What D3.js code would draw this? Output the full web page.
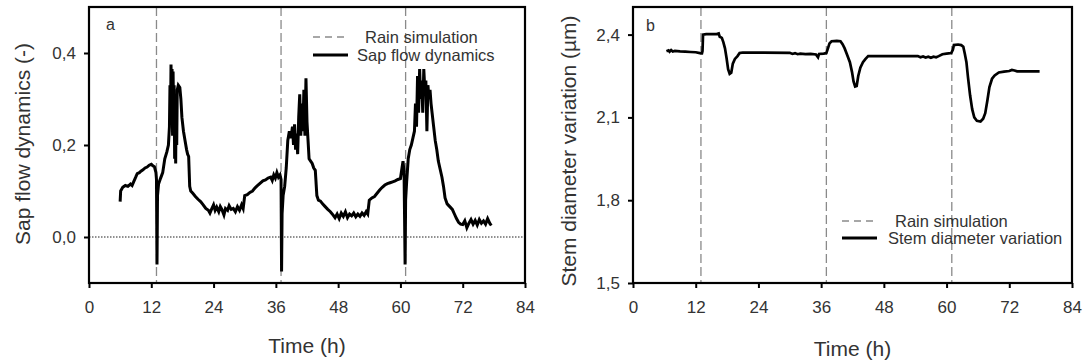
<!DOCTYPE html>
<html>
<head>
    <meta charset="utf-8">
    <script type="text/javascript" src="https://d3js.org/d3.v7.min.js"></script>
    <style>
        body { margin: 0; background: white; }
        text { font-family: "Liberation Sans", Arial, sans-serif; fill: #333; }
    </style>
</head>
<body>
    <div id="chart"></div>
    <script type="text/javascript">
        // data
        const rainTimes = [13, 37, 61];
        const xTicks = [0, 12, 24, 36, 48, 60, 72, 84];
        const sapTicks = [0, 0.2, 0.4];
        const stemTicks = [1.5, 1.8, 2.1, 2.4];

        const sapTime = [6.0, 6.1, 6.5, 7.0, 7.5, 8.0, 8.3, 8.6, 9.0, 9.3, 9.7, 10.0, 10.4, 10.8, 11.2, 11.6, 12.0, 12.3, 12.6, 12.9, 13.0, 13.1, 13.2, 13.4, 13.8, 14.2, 14.6, 15.0, 15.3, 15.5, 15.6, 15.7, 15.8, 15.9, 16.0, 16.1, 16.2, 16.3, 16.4, 16.5, 16.6, 16.7, 16.8, 16.9, 17.0, 17.2, 17.5, 17.7, 17.9, 18.2, 18.5, 18.8, 19.0, 19.2, 19.4, 19.6, 20.0, 20.5, 21.0, 21.5, 22.0, 22.5, 23.0, 23.3, 23.6, 24.0, 24.3, 24.6, 25.0, 25.3, 25.6, 26.0, 26.3, 26.7, 27.0, 27.4, 27.8, 28.2, 28.6, 29.0, 29.4, 29.7, 30.0, 30.5, 31.0, 31.5, 32.0, 32.5, 33.0, 33.5, 34.0, 34.5, 35.0, 35.3, 35.6, 35.9, 36.2, 36.5, 36.8, 37.0, 37.1, 37.2, 37.4, 37.7, 38.0, 38.3, 38.6, 38.9, 39.2, 39.4, 39.6, 39.8, 40.0, 40.2, 40.4, 40.6, 40.8, 41.0, 41.2, 41.4, 41.6, 41.8, 42.0, 42.2, 42.4, 42.7, 43.0, 43.3, 43.6, 43.9, 44.2, 44.6, 45.0, 45.5, 46.0, 46.5, 47.0, 47.4, 47.8, 48.2, 48.6, 49.0, 49.4, 49.8, 50.2, 50.6, 51.0, 51.4, 51.8, 52.2, 52.6, 53.0, 53.4, 53.7, 54.0, 54.5, 55.0, 55.5, 56.0, 56.5, 57.0, 57.5, 58.0, 58.5, 59.0, 59.5, 60.0, 60.3, 60.5, 60.7, 60.9, 61.0, 61.2, 61.5, 61.8, 62.1, 62.4, 62.7, 62.9, 63.1, 63.3, 63.5, 63.7, 63.9, 64.1, 64.3, 64.5, 64.7, 64.9, 65.1, 65.3, 65.5, 65.7, 65.9, 66.1, 66.4, 66.7, 67.0, 67.3, 67.6, 68.0, 68.3, 68.6, 69.0, 69.5, 70.0, 70.4, 70.8, 71.2, 71.6, 72.0, 72.4, 72.8, 73.2, 73.6, 74.0, 74.4, 74.8, 75.2, 75.6, 76.0, 76.4, 76.8, 77.2, 77.5];
        const sapValue = [0.077, 0.100, 0.108, 0.112, 0.110, 0.115, 0.112, 0.120, 0.130, 0.138, 0.140, 0.143, 0.146, 0.150, 0.152, 0.156, 0.158, 0.155, 0.153, 0.140, 0.125, -0.060, 0.090, 0.115, 0.128, 0.140, 0.170, 0.185, 0.200, 0.240, 0.330, 0.250, 0.375, 0.300, 0.365, 0.220, 0.360, 0.260, 0.330, 0.170, 0.300, 0.160, 0.310, 0.200, 0.320, 0.330, 0.325, 0.300, 0.260, 0.230, 0.210, 0.190, 0.180, 0.175, 0.110, 0.100, 0.095, 0.088, 0.082, 0.077, 0.070, 0.062, 0.058, 0.052, 0.060, 0.070, 0.058, 0.065, 0.055, 0.066, 0.060, 0.048, 0.062, 0.058, 0.068, 0.060, 0.062, 0.055, 0.066, 0.058, 0.070, 0.062, 0.090, 0.092, 0.097, 0.100, 0.107, 0.112, 0.117, 0.122, 0.124, 0.128, 0.130, 0.123, 0.135, 0.128, 0.140, 0.130, 0.135, 0.125, -0.075, 0.050, 0.090, 0.110, 0.150, 0.210, 0.230, 0.215, 0.240, 0.200, 0.245, 0.190, 0.225, 0.180, 0.260, 0.310, 0.220, 0.290, 0.230, 0.320, 0.220, 0.345, 0.250, 0.210, 0.170, 0.165, 0.160, 0.150, 0.145, 0.090, 0.080, 0.078, 0.072, 0.066, 0.060, 0.055, 0.048, 0.042, 0.050, 0.040, 0.052, 0.045, 0.055, 0.042, 0.050, 0.046, 0.052, 0.044, 0.050, 0.045, 0.052, 0.047, 0.055, 0.050, 0.080, 0.085, 0.088, 0.095, 0.102, 0.108, 0.113, 0.116, 0.118, 0.120, 0.122, 0.125, 0.127, 0.150, 0.165, 0.140, -0.060, 0.080, 0.120, 0.170, 0.190, 0.200, 0.215, 0.230, 0.290, 0.240, 0.350, 0.270, 0.365, 0.300, 0.340, 0.270, 0.365, 0.320, 0.340, 0.230, 0.330, 0.300, 0.320, 0.290, 0.270, 0.240, 0.210, 0.190, 0.165, 0.150, 0.130, 0.110, 0.085, 0.072, 0.066, 0.060, 0.050, 0.040, 0.032, 0.028, 0.027, 0.035, 0.020, 0.030, 0.038, 0.028, 0.036, 0.026, 0.038, 0.030, 0.035, 0.028, 0.040, 0.030, 0.025];

        const stemTime = [6.4, 6.8, 7.0, 7.3, 7.6, 8.0, 9.0, 10.0, 11.0, 12.0, 12.8, 13.2, 13.3, 13.4, 14.0, 15.0, 16.0, 16.4, 16.6, 17.0, 17.3, 17.6, 17.9, 18.2, 18.5, 18.8, 19.1, 19.5, 20.0, 20.4, 21.0, 25.0, 30.0, 30.5, 31.0, 31.5, 32.0, 33.0, 34.0, 35.0, 35.4, 35.6, 36.5, 37.0, 37.3, 37.6, 38.0, 39.0, 39.7, 40.1, 40.5, 41.0, 41.5, 41.9, 42.2, 42.5, 42.8, 43.1, 43.5, 44.0, 44.5, 45.0, 50.0, 54.5, 55.0, 55.5, 56.0, 56.5, 57.0, 57.5, 58.0, 58.5, 59.2, 60.0, 60.9, 61.2, 61.4, 62.2, 62.8, 63.2, 63.5, 63.8, 64.1, 64.5, 64.9, 65.3, 65.8, 66.5, 67.0, 67.4, 67.8, 68.2, 68.7, 69.2, 70.0, 71.0, 72.0, 72.5, 73.0, 73.5, 75.0, 77.8];
        const stemValue = [2.340, 2.343, 2.338, 2.344, 2.339, 2.341, 2.339, 2.338, 2.337, 2.336, 2.333, 2.332, 2.340, 2.400, 2.402, 2.402, 2.402, 2.404, 2.392, 2.388, 2.372, 2.350, 2.315, 2.275, 2.258, 2.262, 2.295, 2.312, 2.322, 2.333, 2.335, 2.335, 2.334, 2.330, 2.333, 2.329, 2.331, 2.329, 2.330, 2.328, 2.318, 2.330, 2.331, 2.333, 2.350, 2.368, 2.376, 2.377, 2.376, 2.365, 2.350, 2.325, 2.300, 2.265, 2.230, 2.212, 2.214, 2.250, 2.280, 2.300, 2.312, 2.322, 2.322, 2.322, 2.318, 2.321, 2.317, 2.320, 2.316, 2.320, 2.318, 2.322, 2.329, 2.331, 2.333, 2.345, 2.362, 2.364, 2.362, 2.356, 2.330, 2.300, 2.245, 2.180, 2.130, 2.100, 2.088, 2.085, 2.095, 2.115, 2.160, 2.210, 2.240, 2.252, 2.263, 2.266, 2.268, 2.272, 2.270, 2.267, 2.267, 2.267];

        const fmt = function(d){ return d3.format(".1f")(d).replace(".", ","); };

        const svg = d3.select("#chart")
            .append("svg")
            .attr("width", 1086)
            .attr("height", 364)
            .style("background-color", "white");

        const drawPanel = (p) => {
            const x = d3.scaleLinear().domain([0, 84]).range([p.left, p.right]);
            const y = d3.scaleLinear().domain(p.yDomain).range([p.bottom, p.top]);
            const g = svg.append("g");

            // x axis
            g.append("g")
                .attr("transform", `translate(0,${p.bottom})`)
                .call(d3.axisBottom(x).tickValues(xTicks).tickSize(5).tickPadding(13).tickFormat(d3.format("d")))
                .call(a => a.select(".domain").remove())
                .call(a => a.selectAll("line").attr("stroke", "#000").attr("stroke-width", 2))
                .call(a => a.selectAll("text").style("font-size", "17px").style("fill", "#333").style("font-family", "Liberation Sans, Arial, sans-serif"));

            // y axis
            g.append("g")
                .attr("transform", `translate(${p.left},0)`)
                .call(d3.axisLeft(y).tickValues(p.yTicks).tickSize(5).tickPadding(8).tickFormat(fmt))
                .call(a => a.select(".domain").remove())
                .call(a => a.selectAll("line").attr("stroke", "#000").attr("stroke-width", 2))
                .call(a => a.selectAll("text").style("font-size", "17px").style("fill", "#333").style("font-family", "Liberation Sans, Arial, sans-serif"));

            // rain lines
            g.selectAll("line.rain")
                .data(rainTimes)
                .enter()
                .append("line")
                .attr("class", "rain")
                .attr("x1", function(d){return x(d)})
                .attr("x2", function(d){return x(d)})
                .attr("y1", p.top)
                .attr("y2", p.bottom)
                .attr("stroke", "#8a8a8a")
                .attr("stroke-width", 1.3)
                .attr("stroke-dasharray", "9,4");

            if (p.zeroLine) {
                g.append("line")
                    .attr("x1", p.left).attr("x2", p.right)
                    .attr("y1", y(0)).attr("y2", y(0))
                    .attr("stroke", "#222")
                    .attr("stroke-width", 1.2)
                    .attr("stroke-dasharray", "1.5,1.5");
            }

            const line = d3.line()
                .x(function(d){return x(d[0])})
                .y(function(d){return y(d[1])});

            g.append("path")
                .datum(d3.zip(p.times, p.values))
                .attr("d", line)
                .attr("fill", "none")
                .attr("stroke", "#000")
                .attr("stroke-width", p.lineWidth)
                .attr("stroke-linejoin", "miter");

            // frame
            g.append("rect")
                .attr("x", p.left).attr("y", p.top)
                .attr("width", p.right - p.left).attr("height", p.bottom - p.top)
                .attr("fill", "none")
                .attr("stroke", "#000")
                .attr("stroke-width", 2.2);

            g.append("text")
                .attr("x", p.letterX).attr("y", p.letterY)
                .style("font-size", "16px")
                .text(p.letter);

            // legend
            g.append("line")
                .attr("x1", p.legX).attr("x2", p.legX + 35)
                .attr("y1", p.legY1).attr("y2", p.legY1)
                .attr("stroke", "#8a8a8a").attr("stroke-width", 1.3)
                .attr("stroke-dasharray", "7,5");
            g.append("text")
                .attr("x", p.legText1X).attr("y", p.legY1 + 6)
                .style("font-size", "16.5px")
                .text("Rain simulation");
            g.append("line")
                .attr("x1", p.legX).attr("x2", p.legX + 35)
                .attr("y1", p.legY2).attr("y2", p.legY2)
                .attr("stroke", "#000").attr("stroke-width", 3);
            g.append("text")
                .attr("x", p.legText2X).attr("y", p.legY2 + 6)
                .style("font-size", "16.5px")
                .text(p.seriesName);

            // axis titles
            g.append("text")
                .attr("x", (p.left + p.right) / 2)
                .attr("y", p.xTitleY)
                .attr("text-anchor", "middle")
                .style("font-size", "21px")
                .text("Time (h)");
            g.append("text")
                .attr("transform", `translate(${p.yTitleX},${p.yTitleCY}) rotate(-90)`)
                .attr("text-anchor", "middle")
                .style("font-size", "21px")
                .text(p.yTitle);
        };

        drawPanel({
            left: 89, right: 525, top: 7, bottom: 283,
            yDomain: [-0.1, 0.5], yTicks: sapTicks, zeroLine: true,
            times: sapTime, values: sapValue, lineWidth: 3,
            letter: "a", letterX: 106, letterY: 30,
            legX: 313, legY1: 37, legY2: 55, legText1X: 365, legText2X: 357,
            seriesName: "Sap flow dynamics",
            xTitleY: 353, yTitleX: 30, yTitleCY: 144,
            yTitle: "Sap flow dynamics (-)"
        });

        drawPanel({
            left: 633, right: 1072, top: 7, bottom: 283,
            yDomain: [1.5, 2.5], yTicks: stemTicks, zeroLine: false,
            times: stemTime, values: stemValue, lineWidth: 2.7,
            letter: "b", letterX: 646, letterY: 31,
            legX: 842, legY1: 221, legY2: 238, legText1X: 895, legText2X: 888,
            seriesName: "Stem diameter variation",
            xTitleY: 356, yTitleX: 576, yTitleCY: 151,
            yTitle: "Stem diameter variation (\u00b5m)"
        });
    </script>
</body>
</html>
